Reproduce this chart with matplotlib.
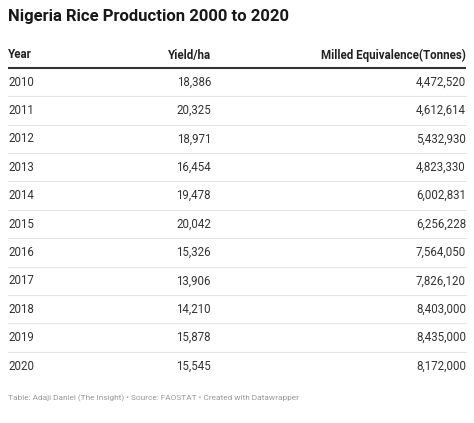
import matplotlib.pyplot as plt

years = ["2010", "2011", "2012", "2013", "2014", "2015", "2016", "2017", "2018", "2019", "2020"]
yields = [18386, 20325, 18971, 16454, 19478, 20042, 15326, 13906, 14210, 15878, 15545]
milled = [4472520, 4612614, 5432930, 4823330, 6002831, 6256228, 7564050, 7826120, 8403000, 8435000, 8172000]
headers = ["Year", "Yield/ha", "Milled Equivalence(Tonnes)"]

title = "Nigeria Rice Production 2000 to 2020"
footer = "Table: Adaji Daniel (The Insight) \u2022 Source: FAOSTAT \u2022 Created with Datawrapper"

plt.rcParams["font.family"] = ["Roboto", "DejaVu Sans"]

W, H = 474, 423
fig = plt.figure(figsize=(W / 100, H / 100), dpi=100)
ax = fig.add_axes([0, 0, 1, 1])
ax.set_xlim(0, W)
ax.set_ylim(H, 0)
ax.axis("off")

left, col2, right = 8, 211, 466
row0, step = 82, 28.4

ax.text(left, 17, title, fontsize=12, fontweight="bold", color="#181818", va="center", ha="left")

for x, h, ha in zip([left, col2, right], headers, ["left", "right", "right"]):
    ax.text(x, 55, h, fontsize=8.3, fontweight="bold", color="#222222", va="center", ha=ha)
ax.plot([left, right], [68, 68], color="#333333", linewidth=1.5, solid_capstyle="butt")

for i, (yr, yl, ml) in enumerate(zip(years, yields, milled)):
    y = row0 + i * step
    ax.text(left, y, yr, fontsize=8.3, color="#333333", va="center", ha="left")
    ax.text(col2, y, f"{yl:,}", fontsize=8.3, color="#333333", va="center", ha="right")
    ax.text(right, y, f"{ml:,}", fontsize=8.3, color="#333333", va="center", ha="right")
    if i < len(years) - 1:
        ax.plot([left, right], [y + step / 2, y + step / 2], color="#e6e6e6", linewidth=0.8)

ax.text(left, 398, footer, fontsize=5.95, color="#9a9a9a", va="center", ha="left")

fig.savefig("out.png", dpi=100)
